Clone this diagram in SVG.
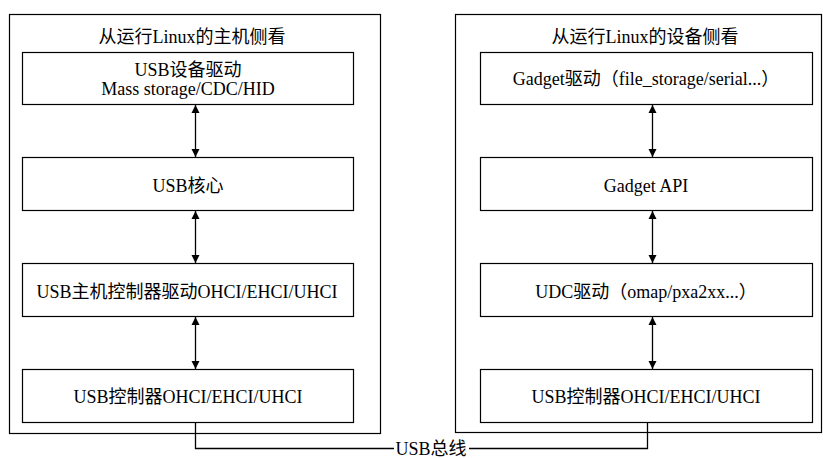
<svg xmlns="http://www.w3.org/2000/svg" width="823" height="458" viewBox="0 0 823 458">
<defs>
<style>
.frame{fill:#fff;stroke:#000;stroke-width:1.2}
.box{fill:#fff;stroke:#000;stroke-width:1.2}
.t{font-family:"Liberation Serif","Noto Sans CJK SC",serif;font-size:18px;fill:#000;text-anchor:middle}
.conn{stroke:#000;stroke-width:1.3;fill:none}
</style>
<marker id="ah" viewBox="0 0 10 10" refX="10" refY="5" markerWidth="8" markerHeight="11" markerUnits="userSpaceOnUse" orient="auto-start-reverse">
<path d="M0,0 L10,5 L0,10 Z" fill="#000"/>
</marker>
</defs>
<rect width="823" height="458" fill="#fff"/>
<g id="host">
<rect class="frame" x="9.5" y="14.5" width="371" height="419"/>
<text class="t" x="192" y="43">从运行Linux的主机侧看</text>
</g>
<g id="device">
<rect class="frame" x="455.5" y="14.5" width="366" height="418"/>
<text class="t" x="645" y="43">从运行Linux的设备侧看</text>
</g>
<g id="h1"><rect class="box" x="22.5" y="52.5" width="331" height="52"/><text class="t" x="188" y="76">USB设备驱动</text><text class="t" x="188" y="95">Mass storage/CDC/HID</text></g>
<g id="h2"><rect class="box" x="22.5" y="157.5" width="331" height="53"/><text class="t" x="188" y="192">USB核心</text></g>
<g id="h3"><rect class="box" x="22.5" y="263.5" width="331" height="53"/><text class="t" x="187" y="298">USB主机控制器驱动OHCI/EHCI/UHCI</text></g>
<g id="h4"><rect class="box" x="22.5" y="369.5" width="331" height="53"/><text class="t" x="188" y="403">USB控制器OHCI/EHCI/UHCI</text></g>
<g id="d1"><rect class="box" x="480.5" y="52.5" width="332" height="52"/><text class="t" x="646" y="85">Gadget驱动（file_storage/serial...）</text></g>
<g id="d2"><rect class="box" x="480.5" y="157.5" width="332" height="53"/><text class="t" x="646" y="192">Gadget API</text></g>
<g id="d3"><rect class="box" x="480.5" y="263.5" width="332" height="53"/><text class="t" x="646" y="298">UDC驱动（omap/pxa2xx...）</text></g>
<g id="d4"><rect class="box" x="480.5" y="369.5" width="332" height="53"/><text class="t" x="646" y="403">USB控制器OHCI/EHCI/UHCI</text></g>
<g id="connectors">
<line class="conn" x1="195.5" y1="105" x2="195.5" y2="157" marker-start="url(#ah)" marker-end="url(#ah)"/>
<line class="conn" x1="195.5" y1="211" x2="195.5" y2="263" marker-start="url(#ah)" marker-end="url(#ah)"/>
<line class="conn" x1="195.5" y1="317" x2="195.5" y2="369" marker-start="url(#ah)" marker-end="url(#ah)"/>
<line class="conn" x1="652.5" y1="105" x2="652.5" y2="157" marker-start="url(#ah)" marker-end="url(#ah)"/>
<line class="conn" x1="652.5" y1="211" x2="652.5" y2="263" marker-start="url(#ah)" marker-end="url(#ah)"/>
<line class="conn" x1="652.5" y1="317" x2="652.5" y2="369" marker-start="url(#ah)" marker-end="url(#ah)"/>
<polyline class="conn" points="195.5,423 195.5,448.5 394,448.5"/>
<polyline class="conn" points="469,448.5 647.5,448.5 647.5,423"/>
<text class="t" x="431" y="455">USB总线</text>
</g>
</svg>
